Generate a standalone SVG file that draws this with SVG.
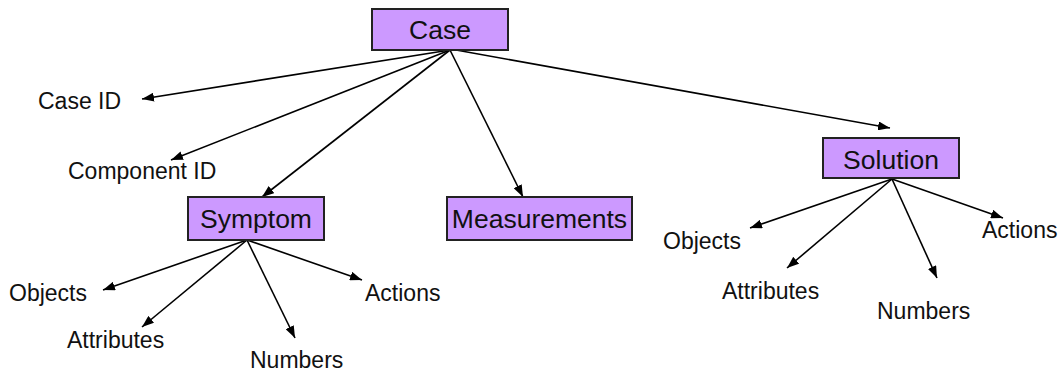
<svg xmlns="http://www.w3.org/2000/svg" width="1064" height="374" viewBox="0 0 1064 374">
<style>
.box{fill:#cc99ff;stroke:#222;stroke-width:2}
.bt{font-family:"Liberation Sans",Arial,sans-serif;font-size:26.5px;fill:#111;text-anchor:middle}
.lt{font-family:"Liberation Sans",Arial,sans-serif;font-size:23px;fill:#111}
.c{stroke:#000;stroke-width:1.6;fill:none;marker-end:url(#ah)}
</style>
<defs>
<marker id="ah" viewBox="0 0 12 9" refX="12" refY="4.5" markerWidth="12" markerHeight="9" markerUnits="userSpaceOnUse" orient="auto">
<path d="M0,0 L12,4.5 L0,9 Z" fill="#000"/>
</marker>
</defs>
<rect width="1064" height="374" fill="#fff"/>
<g id="connectors">
<line class="c" x1="450" y1="50" x2="142" y2="99"/>
<line class="c" x1="450" y1="50" x2="171" y2="160"/>
<line class="c" x1="450" y1="50" x2="262" y2="197"/>
<line class="c" x1="450" y1="50" x2="523" y2="197"/>
<line class="c" x1="456" y1="50" x2="890" y2="128"/>
<line class="c" x1="247" y1="240" x2="103" y2="290"/>
<line class="c" x1="247" y1="240" x2="142" y2="327"/>
<line class="c" x1="247" y1="240" x2="295" y2="338"/>
<line class="c" x1="247" y1="240" x2="362" y2="280"/>
<line class="c" x1="892" y1="179" x2="750" y2="228"/>
<line class="c" x1="892" y1="179" x2="787" y2="268"/>
<line class="c" x1="892" y1="179" x2="937" y2="278"/>
<line class="c" x1="892" y1="179" x2="1003" y2="218"/>
</g>
<g id="case"><rect class="box" x="372" y="9" width="136" height="41"/><text class="bt" x="440" y="39">Case</text></g>
<g id="symptom"><rect class="box" x="188" y="197" width="136" height="43"/><text class="bt" x="256" y="228">Symptom</text></g>
<g id="measurements"><rect class="box" x="447" y="197" width="185" height="43"/><text class="bt" x="539.5" y="228">Measurements</text></g>
<g id="solution"><rect class="box" x="823" y="138" width="136" height="40"/><text class="bt" x="891" y="169">Solution</text></g>
<g id="case-id"><text class="lt" x="38" y="109">Case ID</text></g>
<g id="component-id"><text class="lt" x="68" y="179">Component ID</text></g>
<g id="s-objects"><text class="lt" x="9" y="301">Objects</text></g>
<g id="s-attributes"><text class="lt" x="67" y="348">Attributes</text></g>
<g id="s-numbers"><text class="lt" x="250" y="368">Numbers</text></g>
<g id="s-actions"><text class="lt" x="365" y="301">Actions</text></g>
<g id="o-objects"><text class="lt" x="663" y="249">Objects</text></g>
<g id="o-attributes"><text class="lt" x="722" y="299">Attributes</text></g>
<g id="o-numbers"><text class="lt" x="877" y="319">Numbers</text></g>
<g id="o-actions"><text class="lt" x="982" y="238">Actions</text></g>
</svg>
